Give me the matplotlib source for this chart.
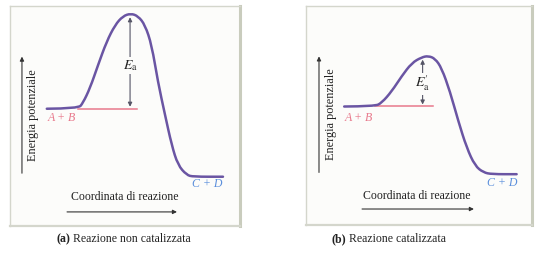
import matplotlib
matplotlib.use("Agg")
import matplotlib.pyplot as plt
from matplotlib.path import Path
from matplotlib.patches import PathPatch

# Energy profile, uncatalysed reaction (reaction coordinate, potential energy)
coord_a = [16.0, 29.7, 31.7, 34.8, 38.3, 42.0, 45.7, 49.1, 52.5, 55.7,
           58.7, 61.6, 64.3, 67.4, 70.3, 73.0, 76.8, 79.6, 92.6]
energy_a = [53.3, 53.4, 55.9, 62.7, 73.2, 83.8, 91.4, 95.4, 96.6, 95.4,
            91.4, 82.3, 65.6, 50.5, 36.8, 27.7, 23.2, 22.4, 22.4]

# Energy profile, catalysed reaction
coord_b = [16.9, 30.5, 33.5, 37.9, 42.3, 46.8, 51.2, 54.1, 57.1, 60.0,
           63.7, 67.4, 71.1, 74.8, 78.5, 82.2, 93.2]
energy_b = [54.1, 54.2, 55.8, 61.0, 67.9, 74.0, 76.6, 77.2, 76.0, 71.7,
            61.0, 47.4, 35.3, 27.0, 24.0, 23.2, 23.2]

reactant_level = [53.4, 54.2]
peak_level = [96.4, 77.0]
peak_coord = [52.2, 51.6]
level_end = [55.1, 56.3]

captions = ["(a)", "(b)"]
caption_texts = ["Reazione non catalizzata", "Reazione catalizzata"]
ea_labels = [r"$E_\mathrm{a}$", r"$E_\mathrm{a}^{\prime}$"]

CURVE = "#6a55a3"
PINK = "#e8798c"
BLUE = "#5b8fdc"
BORDER = "#d4d6cc"

plt.rcParams["font.family"] = ["Liberation Serif", "DejaVu Serif"]
plt.rcParams["mathtext.fontset"] = "stix"


def smooth_path(xs, ys):
    # quadratic B-spline through midpoints for a smooth drawn curve
    pts = list(zip(xs, ys))
    verts = [pts[0]]
    codes = [Path.MOVETO]
    for i in range(1, len(pts) - 1):
        mid = ((pts[i][0] + pts[i + 1][0]) / 2, (pts[i][1] + pts[i + 1][1]) / 2)
        verts += [pts[i], mid]
        codes += [Path.CURVE3, Path.CURVE3]
    verts.append(pts[-1])
    codes.append(Path.LINETO)
    return Path(verts, codes)


fig = plt.figure(figsize=(5.48, 2.57), dpi=100)

# box positions in figure pixels (left, right, top, bottom)
boxes = [(10, 240, 6, 226), (306, 532, 6, 225)]
curves = [(coord_a, energy_a), (coord_b, energy_b)]
yaxis_x = [5.2, 5.75]
ylabel_x = [10.0, 11.0]
ab_x = [22.6, 23.5]
cd_x = [85.7, 86.7]
ea_pos = [(52.4, 73.0), (51.3, 64.5)]
xlabel_x = [50.0, 49.1]
xarrow = [(24.8, 72.6, 6.4), (24.8, 74.3, 7.3)]
caption_split = [70, 346]

W, H = 548, 257
for i, (l, r, t, b) in enumerate(boxes):
    ax = fig.add_axes([l / W, 1 - b / H, (r - l) / W, (b - t) / H])
    ax.set_xlim(0, 100)
    ax.set_ylim(0, 100)
    ax.set_facecolor("#fcfcfa")
    for side, sp in ax.spines.items():
        sp.set_color(BORDER)
        sp.set_linewidth(1.0)
    ax.spines["right"].set_linewidth(2.2)
    ax.spines["right"].set_color("#c9ccbd")
    ax.spines["bottom"].set_linewidth(1.6)
    ax.set_xticks([])
    ax.set_yticks([])

    xs, ys = curves[i]
    # reactant level line
    ax.plot([xs[1], level_end[i]], [reactant_level[i]] * 2,
            color=PINK, lw=1.1, zorder=2)
    ax.add_patch(PathPatch(smooth_path(xs, ys), fill=False,
                           edgecolor=CURVE, lw=1.8, zorder=3,
                           capstyle="round"))

    # activation energy double arrow
    ax.annotate("", xy=(peak_coord[i], peak_level[i] - 1.5),
                xytext=(peak_coord[i], reactant_level[i] + 0.8),
                arrowprops=dict(arrowstyle="<|-|>", color="#555566",
                                lw=0.8, mutation_scale=6,
                                shrinkA=0, shrinkB=0), zorder=4)
    ax.text(ea_pos[i][0], ea_pos[i][1], ea_labels[i], fontsize=10,
            ha="center", va="center", color="#222222", zorder=5,
            bbox=dict(boxstyle="square,pad=0.1", fc="#fcfcfa", ec="none"))

    # energy axis arrow
    ax.annotate("", xy=(yaxis_x[i], 77), xytext=(yaxis_x[i], 24),
                arrowprops=dict(arrowstyle="-|>", color="#333333",
                                lw=0.8, mutation_scale=6,
                                shrinkA=0, shrinkB=0))
    ax.text(ylabel_x[i], 50.5, "Energia potenziale", rotation=90,
            fontsize=8.8, ha="center", va="center", color="#222222")

    # reaction coordinate arrow
    x0, x1, yy = xarrow[i]
    ax.annotate("", xy=(x1, yy), xytext=(x0, yy),
                arrowprops=dict(arrowstyle="-|>", color="#333333",
                                lw=0.8, mutation_scale=6,
                                shrinkA=0, shrinkB=0))
    ax.text(xlabel_x[i], 13.4, "Coordinata di reazione", fontsize=8.5,
            ha="center", va="center", color="#222222")

    ax.text(ab_x[i], 49.0, "A + B", fontsize=8.6, style="italic",
            ha="center", va="center", color=PINK)
    ax.text(cd_x[i], 19.0, "C + D", fontsize=8.6, style="italic",
            ha="center", va="center", color=BLUE)

    # caption below the box
    fig.text(caption_split[i] / W, 1 - 239 / H, captions[i],
             fontsize=8.5, fontweight="bold", ha="right", va="center",
             color="#222222")
    fig.text((caption_split[i] + 3) / W, 1 - 239 / H, caption_texts[i],
             fontsize=8.5, ha="left", va="center", color="#222222")

fig.savefig("out.png", dpi=100, facecolor="white")
